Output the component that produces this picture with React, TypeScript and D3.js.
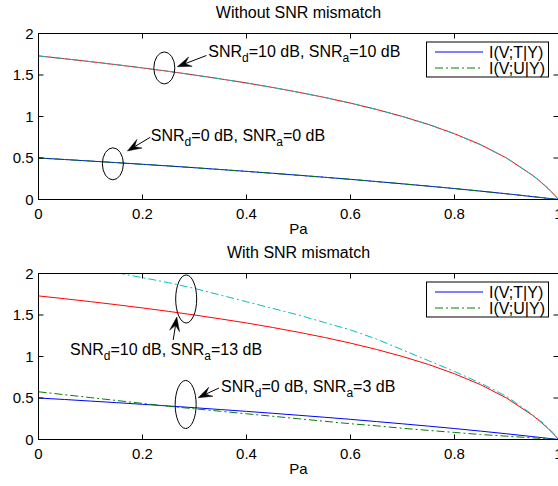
import React from 'react';
import * as d3 from 'd3';

// ---------- data ----------
const pa = [0, 0.05, 0.1, 0.15, 0.2, 0.25, 0.3, 0.35, 0.4, 0.45, 0.5, 0.55, 0.6, 0.65, 0.7, 0.75, 0.8, 0.85, 0.9, 0.95, 0.96, 0.97, 0.98, 0.99, 1.0];

// I(V;T|Y), SNRd = 10 dB
const tHigh = [1.730, 1.696, 1.661, 1.624, 1.585, 1.544, 1.500, 1.453, 1.404, 1.350, 1.292, 1.230, 1.161, 1.085, 1.000, 0.904, 0.792, 0.661, 0.500, 0.292, 0.243, 0.189, 0.132, 0.069, 0.0];
// I(V;T|Y), SNRd = 0 dB
const tLow = [0.500, 0.482, 0.463, 0.444, 0.424, 0.404, 0.383, 0.361, 0.339, 0.316, 0.292, 0.268, 0.243, 0.216, 0.189, 0.161, 0.132, 0.101, 0.069, 0.035, 0.028, 0.021, 0.014, 0.007, 0.0];

// I(V;U|Y) without mismatch (SNRa = SNRd)
const uHighMatched = [1.730, 1.696, 1.661, 1.624, 1.585, 1.544, 1.500, 1.453, 1.404, 1.350, 1.292, 1.230, 1.161, 1.085, 1.000, 0.904, 0.792, 0.661, 0.500, 0.292, 0.243, 0.189, 0.132, 0.069, 0.0];
const uLowMatched = [0.500, 0.482, 0.463, 0.444, 0.424, 0.404, 0.383, 0.361, 0.339, 0.316, 0.292, 0.268, 0.243, 0.216, 0.189, 0.161, 0.132, 0.101, 0.069, 0.035, 0.028, 0.021, 0.014, 0.007, 0.0];

// I(V;U|Y) with mismatch: SNRa = 13 dB and SNRa = 3 dB
const uHighMismatch = [2.20, 2.15, 2.09, 2.01, 1.95, 1.89, 1.82, 1.74, 1.66, 1.58, 1.50, 1.41, 1.32, 1.21, 1.08, 0.95, 0.82, 0.68, 0.52, 0.30, 0.25, 0.20, 0.14, 0.08, 0.0];
const uLowMismatch = [0.575, 0.540, 0.505, 0.470, 0.435, 0.400, 0.370, 0.340, 0.310, 0.280, 0.250, 0.220, 0.190, 0.165, 0.135, 0.110, 0.085, 0.060, 0.040, 0.020, 0.016, 0.012, 0.008, 0.004, 0.0];

const xTicks = [0, 0.2, 0.4, 0.6, 0.8, 1];
const yTicks = [0, 0.5, 1, 1.5, 2];
const legendLabels = ['I(V;T|Y)', 'I(V;U|Y)'];
const titles = ['Without SNR mismatch', 'With SNR mismatch'];
const xLabel = 'Pa';

// ---------- style ----------
const BLUE = '#0000ff';
const GREEN = '#008000';
const RED = '#ff0000';
const CYAN = '#00bfbf';
const DASHDOT = '8,3,2,3';
const FONT = "'Liberation Sans', Arial, Helvetica, sans-serif";

const W = 558;
const H = 486;
const X0 = 38.5;
const X1 = 558.5;

type Series = { values: number[]; color: string; dash?: string };
type Ann = {
  ellipse: [number, number];
  tip: [number, number];
  tail: [number, number];
  text: [number, number];
  d: string;
  a: string;
};

const panels: { top: number; bottom: number; title: string; series: Series[]; anns: Ann[] }[] = [
  {
    top: 33.5,
    bottom: 199.5,
    title: titles[0],
    series: [
      { values: tLow, color: BLUE },
      { values: tHigh, color: RED },
      { values: uLowMatched, color: GREEN, dash: DASHDOT },
      { values: uHighMatched, color: CYAN, dash: DASHDOT },
    ],
    anns: [
      { ellipse: [0.242, 1.585], tip: [0.267, 1.60], tail: [0.323, 1.735], text: [0.3265, 1.72], d: '10', a: '10' },
      { ellipse: [0.143, 0.43], tip: [0.171, 0.585], tail: [0.215, 0.75], text: [0.216, 0.71], d: '0', a: '0' },
    ],
  },
  {
    top: 273.5,
    bottom: 439.5,
    title: titles[1],
    series: [
      { values: tLow, color: BLUE },
      { values: tHigh, color: RED },
      { values: uLowMismatch, color: GREEN, dash: DASHDOT },
      { values: uHighMismatch, color: CYAN, dash: DASHDOT },
    ],
    anns: [
      { ellipse: [0.284, 1.693], tip: [0.266, 1.475], tail: [0.259, 1.199], text: [0.0606, 1.018], d: '10', a: '13' },
      { ellipse: [0.283, 0.422], tip: [0.307, 0.504], tail: [0.347, 0.62], text: [0.351, 0.578], d: '0', a: '3' },
    ],
  },
];

function Arrow({ x1, y1, x2, y2 }: { x1: number; y1: number; x2: number; y2: number }) {
  const ang = Math.atan2(y2 - y1, x2 - x1);
  const L = 14;
  const Wd = 10;
  const c = Math.cos(ang);
  const s = Math.sin(ang);
  const pt = (u: number, v: number) => [x2 + u * c - v * s, y2 + u * s + v * c];
  const p1 = pt(-L, Wd / 2);
  const p2 = pt(-L * 0.6, 0);
  const p3 = pt(-L, -Wd / 2);
  const base = pt(-L * 0.6, 0);
  return (
    <g>
      <line x1={x1} y1={y1} x2={base[0]} y2={base[1]} stroke="#000" strokeWidth={1} />
      <path d={`M${x2},${y2}L${p1[0]},${p1[1]}L${p2[0]},${p2[1]}L${p3[0]},${p3[1]}Z`} fill="#000" stroke="#000" strokeWidth={0.5} />
    </g>
  );
}

function Panel({ idx }: { idx: number }) {
  const p = panels[idx];
  const x = d3.scaleLinear().domain([0, 1]).range([X0, X1]);
  const y = d3.scaleLinear().domain([0, 2]).range([p.bottom, p.top]);
  const line = d3
    .line<number>()
    .x((_, i) => x(pa[i]))
    .y((v) => y(v));
  const clipId = `clip${idx}`;
  const tickLen = 5;
  const legTop = p.top + 8.5;
  const legLeft = 426.5;
  const legRight = 548.5;
  const legBottom = legTop + 35;
  return (
    <g>
      <defs>
        <clipPath id={clipId}>
          <rect x={X0} y={p.top} width={X1 - X0} height={p.bottom - p.top} />
        </clipPath>
      </defs>
      <rect x={X0} y={p.top} width={X1 - X0} height={p.bottom - p.top} fill="#fff" />
      <text x={(X0 + X1) / 2} y={p.top - 16} textAnchor="middle" fontSize={16} fontFamily={FONT}>
        {p.title}
      </text>
      <g clipPath={`url(#${clipId})`}>
        {p.series.map((s, i) => (
          <path key={i} d={line(s.values) || ''} fill="none" stroke={s.color} strokeWidth={1} strokeDasharray={s.dash} />
        ))}
      </g>
      {/* axes box and ticks */}
      <rect x={X0} y={p.top} width={X1 - X0} height={p.bottom - p.top} fill="none" stroke="#000" strokeWidth={1} />
      {xTicks.map((t) => (
        <g key={'x' + t}>
          <line x1={x(t)} x2={x(t)} y1={p.bottom} y2={p.bottom - tickLen} stroke="#000" />
          <line x1={x(t)} x2={x(t)} y1={p.top} y2={p.top + tickLen} stroke="#000" />
          <text x={x(t)} y={p.bottom + 19.5} textAnchor="middle" fontSize={15} fontFamily={FONT}>
            {d3.format('')(t)}
          </text>
        </g>
      ))}
      {yTicks.map((t) => (
        <g key={'y' + t}>
          <line x1={X0} x2={X0 + tickLen} y1={y(t)} y2={y(t)} stroke="#000" />
          <line x1={X1} x2={X1 - tickLen} y1={y(t)} y2={y(t)} stroke="#000" />
          <text x={33.5} y={y(t)} dy="0.36em" textAnchor="end" fontSize={15} fontFamily={FONT}>
            {d3.format('')(t)}
          </text>
        </g>
      ))}
      <text x={(X0 + X1) / 2} y={p.bottom + 34} textAnchor="middle" fontSize={15} fontFamily={FONT}>
        {xLabel}
      </text>
      {/* annotations */}
      {p.anns.map((a, i) => (
        <g key={'a' + i}>
          <ellipse cx={x(a.ellipse[0])} cy={y(a.ellipse[1])} rx={10.5} ry={idx === 0 ? 16 : 24} fill="none" stroke="#000" strokeWidth={1} />
          <Arrow x1={x(a.tail[0])} y1={y(a.tail[1])} x2={x(a.tip[0])} y2={y(a.tip[1])} />
          <text x={x(a.text[0])} y={y(a.text[1])} fontSize={16} fontFamily={FONT}>
            <tspan>SNR</tspan>
            <tspan dy={5} fontSize={12}>d</tspan>
            <tspan dy={-5}>{`=${a.d} dB, SNR`}</tspan>
            <tspan dy={5} fontSize={12}>a</tspan>
            <tspan dy={-5}>{`=${a.a} dB`}</tspan>
          </text>
        </g>
      ))}
      {/* legend */}
      <rect x={legLeft} y={legTop} width={legRight - legLeft} height={legBottom - legTop} fill="#fff" stroke="#000" strokeWidth={1} />
      {legendLabels.map((lab, i) => {
        const ly = legTop + 10 + i * 16;
        return (
          <g key={lab}>
            <line x1={435} x2={483} y1={ly} y2={ly} stroke={i === 0 ? BLUE : GREEN} strokeWidth={1} strokeDasharray={i === 0 ? undefined : DASHDOT} />
            <text x={489} y={ly} dy="0.36em" fontSize={16} fontFamily={FONT}>
              {lab}
            </text>
          </g>
        );
      })}
    </g>
  );
}

export default function App() {
  return (
    <svg width={W} height={H} style={{ position: 'absolute', left: 0, top: 0, background: '#fff' }}>
      <rect x={0} y={0} width={W} height={H} fill="#fff" />
      <Panel idx={0} />
      <Panel idx={1} />
    </svg>
  );
}
